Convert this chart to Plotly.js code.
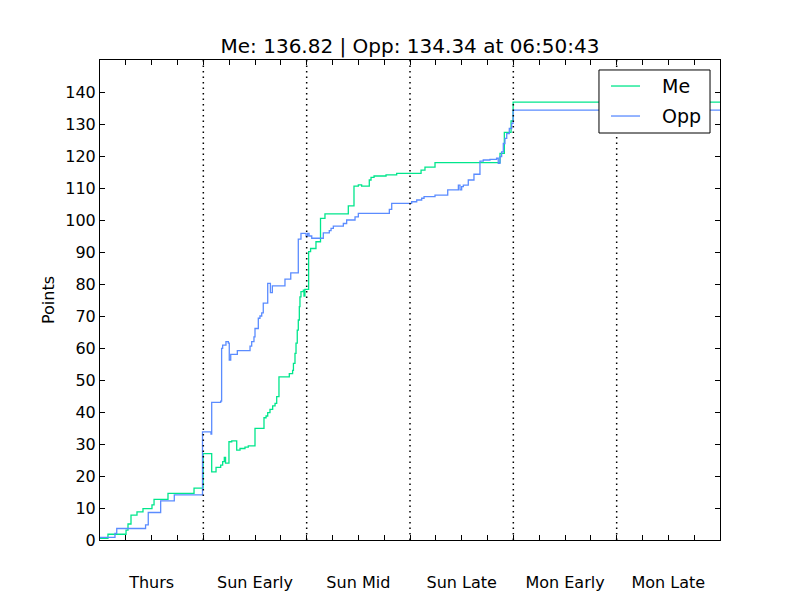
<!DOCTYPE html>
<html>
<head>
<meta charset="utf-8">
<script src="https://cdn.plot.ly/plotly-3.0.1.min.js"></script>
<style>html,body{margin:0;padding:0;background:#fff;}#chart{width:800px;height:600px;}</style>
</head>
<body>
<div id="chart"></div>
<script>
// Category labels for each section of the x axis
const sectionLabels = ["Thurs", "Sun Early", "Sun Mid", "Sun Late", "Mon Early", "Mon Late"];
const sectionCenters = [0.5, 1.5, 2.5, 3.5, 4.5, 5.5];
const sectionBounds = [1, 2, 3, 4, 5];
const yTicks = [0, 10, 20, 30, 40, 50, 60, 70, 80, 90, 100, 110, 120, 130, 140];
const seriesNames = ["Me", "Opp"];
const seriesColors = ["#00e68c", "#5b8cff"];

// Me series (step line), x in section units
const meX = [0, 0.077, 0.252, 0.271, 0.300, 0.358, 0.416, 0.503, 0.523, 0.658, 0.910, 0.998,
  1.081, 1.123, 1.168, 1.187, 1.203, 1.215, 1.248, 1.275, 1.323, 1.355, 1.403, 1.435, 1.500,
  1.587, 1.607, 1.623, 1.645, 1.671, 1.694, 1.710, 1.732, 1.832, 1.864, 1.872, 1.887, 1.897,
  1.909, 1.919, 1.929, 1.935, 1.945, 1.968, 1.974, 1.983, 2.019, 2.038, 2.090, 2.134, 2.177,
  2.403, 2.458, 2.500, 2.532, 2.606, 2.623, 2.652, 2.768, 2.871, 3.107, 3.145, 3.242, 3.871,
  3.913, 3.978, 3.998, 6.0];
const meY = [0.5, 1.8, 3.1, 5, 7.8, 8.8, 9.8, 11, 12.7, 14.6, 16.2, 27,
  21.3, 22.7, 23.4, 24.5, 25.8, 24, 30.7, 31, 28.1, 28.6, 29, 29.4, 34.9,
  38.2, 38.75, 39.8, 40.8, 41.9, 42.7, 44.8, 51, 52, 53, 55.2, 58.3, 61.5,
  65.6, 68.75, 72.9, 76, 77.6, 78.1, 76.25, 78.3, 90.1, 91.1, 93.2, 100.5, 101.9,
  104.4, 110.6, 111, 110.6, 112.5, 113.3, 113.75, 114.1, 114.6, 115.6, 116.5, 117.9, 120.8,
  127.4, 131, 136.82, 136.82];

// Opp series (step line)
const oppX = [0, 0.145, 0.162, 0.441, 0.467, 0.587, 0.719, 0.992, 1.074, 1.081, 1.168, 1.177,
  1.187, 1.219, 1.242, 1.251, 1.265, 1.329, 1.452, 1.468, 1.490, 1.500, 1.532, 1.548, 1.565,
  1.580, 1.623, 1.649, 1.668, 1.790, 1.846, 1.919, 1.945, 1.994, 2.009, 2.023, 2.049, 2.161,
  2.219, 2.236, 2.258, 2.355, 2.387, 2.468, 2.500, 2.800, 2.823, 3.016, 3.065, 3.113, 3.136,
  3.242, 3.365, 3.468, 3.484, 3.500, 3.516, 3.564, 3.619, 3.677, 3.709, 3.774, 3.838, 3.854,
  3.871, 3.887, 3.903, 3.919, 3.936, 3.961, 3.984, 3.998, 6.0];
const oppY = [0.8, 2.1, 3.6, 4.7, 8.6, 12.2, 14.1, 33.8, 33.1, 43, 43.4, 59.9,
  60.9, 62, 61.5, 56.25, 58, 59.2, 60.6, 62, 63.5, 66.1, 69.3, 70, 71,
  74, 80.2, 77.3, 79.4, 81.5, 83.5, 94, 95.8, 95, 95.8, 95, 94.3, 96,
  96.7, 97.4, 98.1, 98.9, 100, 101, 102.1, 103.3, 105.2, 105.7, 106.25, 106.8, 107.3,
  107.8, 109.4, 110.9, 109.4, 110.4, 110.9, 112.5, 114.3, 118.4, 118.75, 118.97, 119.3, 117.7,
  119.8, 121.3, 123.9, 125.5, 127, 128.6, 130.2, 134.34, 134.34];

const traces = [
  {x: meX, y: meY, name: seriesNames[0], type: "scatter", mode: "lines",
   line: {color: seriesColors[0], width: 1.3, shape: "hv"}},
  {x: oppX, y: oppY, name: seriesNames[1], type: "scatter", mode: "lines",
   line: {color: seriesColors[1], width: 1.3, shape: "hv"}}
];

const shapes = sectionBounds.map(b => ({
  type: "line", xref: "x", yref: "paper", x0: b, x1: b, y0: 0, y1: 1,
  line: {color: "black", width: 1.5, dash: "1.5px,4px"}
}));

// Legend drawn in matplotlib style (box, line samples, labels)
const legBox = {x0: 0.8048, x1: 0.9839, y0: 0.8479, y1: 0.9792};
shapes.push({type: "rect", xref: "paper", yref: "paper",
  x0: legBox.x0, x1: legBox.x1, y0: legBox.y0, y1: legBox.y1,
  fillcolor: "white", line: {color: "black", width: 1}, layer: "above"});
const legRows = [0.9458, 0.8833];
const annotations = [];
seriesNames.forEach((n, i) => {
  shapes.push({type: "line", xref: "paper", yref: "paper",
    x0: 0.8242, x1: 0.8710, y0: legRows[i], y1: legRows[i],
    line: {color: seriesColors[i], width: 1.3}, layer: "above"});
  annotations.push({xref: "paper", yref: "paper", x: 0.9032, y: legRows[i],
    xanchor: "left", yanchor: "middle", text: n, showarrow: false,
    font: {size: 19, color: "black"}});
});

const layout = {
  width: 800, height: 600,
  margin: {l: 100, r: 80, t: 60, b: 60},
  paper_bgcolor: "white", plot_bgcolor: "white",
  font: {family: "DejaVu Sans", size: 16, color: "black"},
  title: {text: "Me: 136.82 | Opp: 134.34 at 06:50:43", x: 0.5125, xanchor: "center",
          y: 0.923, yanchor: "middle", font: {size: 20, color: "black"}},
  showlegend: false,
  xaxis: {
    range: [0, 6], showgrid: false, zeroline: false,
    showline: true, linecolor: "black", linewidth: 1, mirror: "allticks",
    tickmode: "array", tickvals: sectionCenters, ticktext: sectionLabels,
    ticks: "inside", ticklen: 5, tickcolor: "black",
    ticklabelstandoff: 28,
    minor: {dtick: 0.25, tick0: 0, ticks: "inside", ticklen: 5, tickcolor: "black", showgrid: false},
    tickfont: {size: 16}
  },
  yaxis: {
    range: [0, 150], showgrid: false, zeroline: false,
    showline: true, linecolor: "black", linewidth: 1, mirror: "allticks",
    tickmode: "array", tickvals: yTicks,
    ticks: "inside", ticklen: 5, tickcolor: "black",
    tickfont: {size: 16},
    title: {text: "Points", font: {size: 16}, standoff: 6}
  },
  shapes: shapes,
  annotations: annotations
};

Plotly.newPlot("chart", traces, layout, {staticPlot: true, displayModeBar: false});
</script>
</body>
</html>
